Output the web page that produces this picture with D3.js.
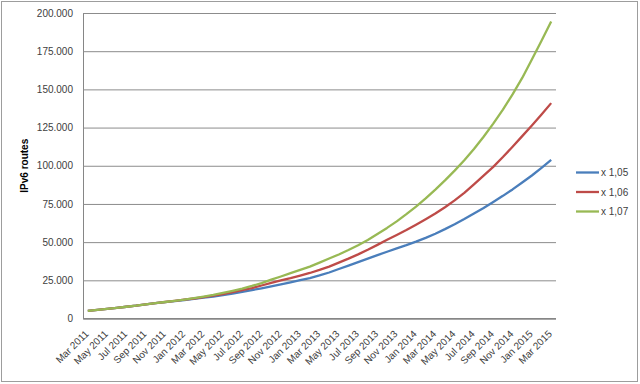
<!DOCTYPE html>
<html>
<head>
<meta charset="utf-8">
<script src="https://cdn.jsdelivr.net/npm/d3@7"></script>
<style>
  body { margin: 0; background: #fff; }
  svg text { font-family: "Liberation Sans", Arial, sans-serif; }
</style>
</head>
<body>
<svg id="chart" width="640" height="384"></svg>
<script>
// months Mar 2011 .. Mar 2015
var months = [
  "Mar 2011","Apr 2011","May 2011","Jun 2011","Jul 2011","Aug 2011","Sep 2011","Oct 2011","Nov 2011","Dec 2011",
  "Jan 2012","Feb 2012","Mar 2012","Apr 2012","May 2012","Jun 2012","Jul 2012","Aug 2012","Sep 2012","Oct 2012",
  "Nov 2012","Dec 2012","Jan 2013","Feb 2013","Mar 2013","Apr 2013","May 2013","Jun 2013","Jul 2013","Aug 2013",
  "Sep 2013","Oct 2013","Nov 2013","Dec 2013","Jan 2014","Feb 2014","Mar 2014","Apr 2014","May 2014","Jun 2014",
  "Jul 2014","Aug 2014","Sep 2014","Oct 2014","Nov 2014","Dec 2014","Jan 2015","Feb 2015","Mar 2015"
];

var seriesNames = ["x 1,05", "x 1,06", "x 1,07"];
var seriesColors = ["#4a7ebb", "#be4b48", "#98b954"];

var values105 = [
  5000, 5700, 6300, 7000, 7700, 8400, 9200, 10000, 10700, 11400,
  12100, 12800, 13600, 14400, 15300, 16300, 17400, 18600, 19800, 21100,
  22400, 23700, 25100, 26500, 28200, 30100, 32400, 34600, 36900, 39200,
  41500, 43700, 45900, 48000, 50300, 52800, 55500, 58500, 61700, 65100,
  68700, 72400, 76300, 80300, 84500, 89000, 93600, 98600, 103800
];
var values106 = [
  5000, 5700, 6300, 7000, 7700, 8400, 9300, 10100, 10800, 11600,
  12300, 13100, 14000, 15000, 16000, 17200, 18500, 19900, 21600, 23300,
  24900, 26400, 28100, 29800, 31800, 34000, 36600, 39200, 42000, 45000,
  48200, 51500, 54700, 57900, 61400, 65000, 68700, 72800, 77300, 82300,
  87800, 93500, 99300, 105700, 112400, 119400, 126400, 133600, 141000
];
var values107 = [
  5000, 5700, 6300, 7000, 7700, 8400, 9300, 10100, 10800, 11600,
  12400, 13300, 14300, 15400, 16700, 18100, 19600, 21300, 23200, 25400,
  27500, 29700, 31800, 34000, 36600, 39300, 41900, 44800, 47900, 51400,
  55300, 59300, 63600, 68300, 73300, 78700, 84400, 90400, 96800, 103600,
  111000, 119000, 127600, 136800, 146700, 157500, 169500, 181800, 194500
];

var yTicks = [0, 25000, 50000, 75000, 100000, 125000, 150000, 175000, 200000];

var allSeries = [values105, values106, values107];

var svg = d3.select("#chart");

// outer chart frame
svg.append("rect")
  .attr("x", 1.5).attr("y", 1.5)
  .attr("width", 636).attr("height", 380)
  .attr("fill", "#fff")
  .attr("stroke", "#9d9d9d");

var plotLeft = 83, plotRight = 556, plotTop = 13, plotBottom = 318.5;

var xScale = d3.scalePoint().domain(months).range([plotLeft, plotRight]).padding(0.5);
var yScale = d3.scaleLinear().domain([0, 200000]).range([plotBottom, plotTop]);

var nl = d3.formatLocale({decimal: ",", thousands: ".", grouping: [3], currency: ["", ""]});
var fmt = nl.format(",");

// y axis + gridlines
var yAxis = d3.axisLeft(yScale)
  .tickValues(yTicks)
  .tickSize(-(plotRight - plotLeft))
  .tickPadding(10)
  .tickFormat(fmt);

var yAxisG = svg.append("g")
  .attr("transform", "translate(" + plotLeft + ",0)")
  .call(yAxis);
yAxisG.select(".domain").attr("stroke", "#868686");
yAxisG.selectAll(".tick line").attr("stroke", "#8c8c8c");
yAxisG.selectAll(".tick text")
  .style("font-size", "10px")
  .attr("fill", "#404040");

// x axis
var xAxis = d3.axisBottom(xScale)
  .tickValues(months.filter(function(d, i) { return i % 2 == 0; }))
  .tickSize(0)
  .tickSizeOuter(0);

var xAxisG = svg.append("g")
  .attr("transform", "translate(0," + plotBottom + ")")
  .call(xAxis);
xAxisG.select(".domain")
  .attr("stroke", "#868686")
  .attr("d", "M" + plotLeft + ",0H" + plotRight);
xAxisG.selectAll(".tick text")
  .style("font-size", "10px")
  .attr("fill", "#404040")
  .attr("text-anchor", "end")
  .attr("dy", null)
  .attr("y", 0)
  .attr("transform", "translate(1,16)rotate(-45)");

// y axis title
svg.append("text")
  .text("IPv6 routes")
  .attr("transform", "translate(28," + ((plotTop + plotBottom) / 2) + ")rotate(-90)")
  .attr("text-anchor", "middle")
  .style("font-size", "10px")
  .style("font-weight", "bold")
  .attr("fill", "#000");

// lines
var line = d3.line()
  .x(function(d, i) { return xScale(months[i]); })
  .y(function(d) { return yScale(d); });

svg.selectAll("path.series")
  .data(allSeries)
  .enter()
  .append("path")
  .attr("class", "series")
  .attr("d", line)
  .attr("fill", "none")
  .attr("stroke", function(d, i) { return seriesColors[i]; })
  .attr("stroke-width", 2.3)
  .attr("stroke-linejoin", "round");

// legend
var legend = svg.selectAll("g.legend")
  .data(seriesNames)
  .enter()
  .append("g")
  .attr("class", "legend")
  .attr("transform", function(d, i) { return "translate(576," + (172.5 + i * 19.5) + ")"; });

legend.append("line")
  .attr("x1", 0).attr("x2", 23)
  .attr("stroke", function(d, i) { return seriesColors[i]; })
  .attr("stroke-width", 2.3);

legend.append("text")
  .text(function(d) { return d; })
  .attr("x", 25)
  .attr("y", 3.5)
  .style("font-size", "10px")
  .attr("fill", "#404040");
</script>
</body>
</html>
